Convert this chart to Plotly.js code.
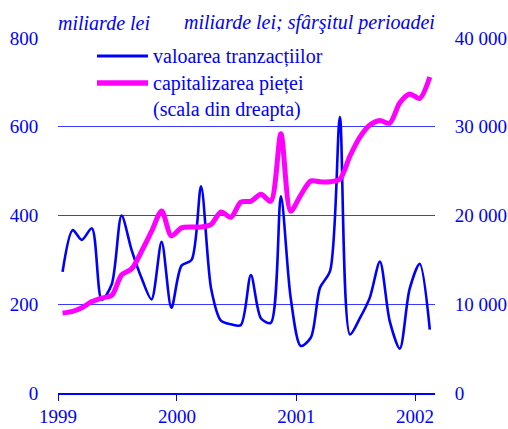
<!DOCTYPE html>
<html>
<head>
<meta charset="utf-8">
<script src="https://cdn.plot.ly/plotly-3.0.1.min.js"></script>
</head>
<body style="margin:0">
<div id="chart" style="width:508px;height:429px"></div>
<script>
// Months (mid-month), Jan 1999 - Feb 2002
var months = [
  '1999-01-15','1999-02-15','1999-03-15','1999-04-15','1999-05-15','1999-06-15',
  '1999-07-15','1999-08-15','1999-09-15','1999-10-15','1999-11-15','1999-12-15',
  '2000-01-15','2000-02-15','2000-03-15','2000-04-15','2000-05-15','2000-06-15',
  '2000-07-15','2000-08-15','2000-09-15','2000-10-15','2000-11-15','2000-12-15',
  '2001-01-15','2001-02-15','2001-03-15','2001-04-15','2001-05-15','2001-06-15',
  '2001-07-15','2001-08-15','2001-09-15','2001-10-15','2001-11-15','2001-12-15',
  '2002-01-15','2002-02-15'
];
// transaction value (billion lei, left scale)
var tranzactii = [
  273, 367, 345, 371, 210, 245, 400, 322, 258, 211, 341, 192,
  287, 300, 466, 235, 163, 155, 153, 266, 168, 158, 443, 215,
  106, 125, 237, 275, 622, 132, 168, 215, 296, 162, 100, 234,
  291, 143
];
// market capitalisation (billion lei, end of period, right scale)
var capitalizare = [
  9000, 9200, 9600, 10300, 10700, 11000, 13300, 14000, 16000, 18200, 20500, 17700,
  18600, 18700, 18700, 19000, 20400, 19800, 21500, 21600, 22400, 21600, 29200, 20500,
  22300, 23900, 23800, 23800, 24100, 26700, 28800, 30200, 30700, 30400, 32700, 33700,
  33200, 35600
];
var leftTicks = [0, 200, 400, 600, 800];
var rightTicks = [0, 10000, 20000, 30000, 40000];
var yearTicks = ['1999-01-01', '2000-01-01', '2001-01-01', '2002-01-01'];
var yearLabels = ['1999', '2000', '2001', '2002'];
var seriesNames = ['valoarea tranzac&#539;iilor', 'capitalizarea pie&#539;ei<br>(scala din dreapta)'];
var unitLeft = 'miliarde lei';
var unitRight = 'miliarde lei; sf&#226;r&#351;itul perioadei';

var BLUE = '#0000ff';
var PINK = '#ff00ff';
var FONT = 'Liberation Serif';

var traces = [
  {x: months, y: tranzactii, type: 'scatter', mode: 'lines', name: seriesNames[0],
   line: {color: BLUE, width: 2.6, shape: 'spline', smoothing: 0.8}, yaxis: 'y'},
  {x: months, y: capitalizare, type: 'scatter', mode: 'lines', name: seriesNames[1],
   line: {color: PINK, width: 5, shape: 'spline', smoothing: 0.8}, yaxis: 'y2'}
];

// legend drawn as key lines + text (paper coordinates)
var legX0 = 0.1034, legX1 = 0.2387, legTx = 0.252;

var layout = {
  width: 508, height: 429,
  margin: {l: 58, r: 73, t: 38, b: 36, pad: 0},
  paper_bgcolor: '#fff', plot_bgcolor: '#fff',
  font: {family: FONT, size: 19, color: BLUE},
  separators: '. ',
  showlegend: false,
  xaxis: {type: 'date', range: ['1999-01-01', '2002-03-03'],
          tickvals: yearTicks, ticktext: yearLabels,
          showgrid: false, zeroline: false, showline: true, linecolor: BLUE, linewidth: 1.5,
          ticks: 'outside', ticklen: 6, tickcolor: BLUE, tickwidth: 1,
          tickfont: {family: FONT, size: 19, color: BLUE}},
  yaxis: {range: [0, 800], tickvals: leftTicks, showgrid: true, gridcolor: '#3a3aff', gridwidth: 1,
          zeroline: false, showline: false, ticks: 'outside', ticklen: 15, tickcolor: 'rgba(0,0,0,0)',
          tickfont: {family: FONT, size: 19, color: BLUE}},
  yaxis2: {range: [0, 40000], tickvals: rightTicks, tickformat: ',d', overlaying: 'y', side: 'right',
           showgrid: false, zeroline: false, showline: false, ticks: 'outside', ticklen: 15,
           tickcolor: 'rgba(0,0,0,0)', tickfont: {family: FONT, size: 19, color: BLUE}},
  shapes: [
    {type: 'line', xref: 'paper', yref: 'paper', x0: legX0, x1: legX1, y0: 0.9493, y1: 0.9493,
     line: {color: BLUE, width: 3}},
    {type: 'line', xref: 'paper', yref: 'paper', x0: legX0, x1: legX1, y0: 0.8732, y1: 0.8732,
     line: {color: PINK, width: 5.5}}
  ],
  annotations: [
    {xref: 'paper', yref: 'paper', x: 0, y: 1, xanchor: 'left', yanchor: 'bottom', yshift: 2, xshift: -2,
     text: unitLeft, showarrow: false, font: {family: FONT, size: 20, color: BLUE, style: 'italic'}},
    {xref: 'paper', yref: 'paper', x: 1, y: 1, xanchor: 'right', yanchor: 'bottom', yshift: 2, xshift: 2,
     text: unitRight, showarrow: false, font: {family: FONT, size: 20, color: BLUE, style: 'italic'}},
    {xref: 'paper', yref: 'paper', x: legTx, y: 0.9465, xanchor: 'left', yanchor: 'middle', xshift: -2,
     text: seriesNames[0], showarrow: false, align: 'left', font: {family: FONT, size: 20, color: BLUE}},
    {xref: 'paper', yref: 'paper', x: legTx, y: 0.834, xanchor: 'left', yanchor: 'middle', xshift: -2,
     text: seriesNames[1], showarrow: false, align: 'left', font: {family: FONT, size: 20, color: BLUE}}
  ]
};

Plotly.newPlot('chart', traces, layout, {displayModeBar: false, staticPlot: true});
</script>
</body>
</html>
